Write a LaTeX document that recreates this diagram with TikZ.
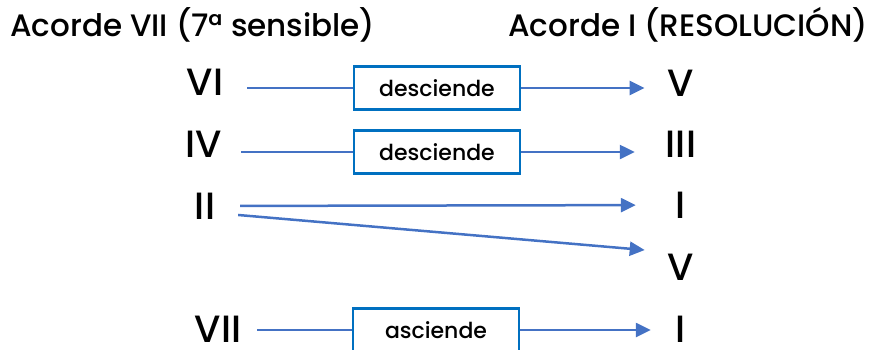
\documentclass[tikz,border=0pt]{standalone}
\usepackage{fontspec}
\setmainfont{Poppins Medium}
\usetikzlibrary{positioning, arrows.meta}
\definecolor{arrowblue}{HTML}{4472C4}
\definecolor{boxblue}{HTML}{0070C0}

\begin{document}
\begin{tikzpicture}[x=1pt, y=-1pt,
  grado/.style={font=\fontsize{38}{40}\selectfont, inner sep=0pt, text height=26.5pt, text depth=0pt},
  titulo/.style={font=\fontsize{31}{33}\selectfont, inner sep=0pt},
  movbox/.style={draw=boxblue, line width=2.5pt, fill=white, minimum width=166pt,
                 minimum height=43pt, inner sep=0pt, font=\fontsize{22}{24}\selectfont},
  linea/.style={arrowblue, line width=2.5pt},
  flecha/.style={linea, -{Triangle[length=15pt,width=14pt]}}]
  \useasboundingbox (0,0) rectangle (874,349);
  % titles
  \node[titulo, anchor=base west] (tizq) at (10,36) {Acorde VII (7ª sensible)};
  \node[titulo, anchor=base east] (tder) at (868,36) {Acorde I (RESOLUCIÓN)};
  % chord VII
  \node[grado] (vi) at (205,82) {VI};
  \node[grado] (iv) at (204,144) {IV};
  \node[grado] (ii) at (205,206) {II};
  \node[grado] (vii) at (218,329) {VII};
  % chord I
  \node[grado] (v) at (681,83) {V};
  \node[grado] (iii) at (681,144) {III};
  \node[grado] (i) at (681,205) {I};
  \node[grado] (vb) at (681,267) {V};
  \node[grado] (ib) at (681,329) {I};
  % boxes
  \node[movbox] (des1) at (437,88) {desciende};
  \node[movbox] (des2) at (437,152) {desciende};
  \node[movbox] (asc) at (436,330) {asciende};
  % connectors
  \draw[linea, shorten <=24pt] (vi.east |- des1.west) -- (des1.west);
  \draw[flecha, shorten >=23pt] (des1.east) -- (des1.east -| v.west);
  \draw[linea, shorten <=19pt] (iv.east |- des2.west) -- (des2.west);
  \draw[flecha, shorten >=31pt] (des2.east) -- (des2.east -| iii.west);
  \draw[flecha, shorten <=25pt, shorten >=40pt] (ii) -- (i);
  \draw[flecha, shorten <=23pt, shorten >=23pt]
    ([shift={(0,7)}]ii.east) -- ([shift={(0,-15)}]vb.west);
  \draw[linea, shorten <=16pt] (vii.east |- asc.west) -- (asc.west);
  \draw[flecha, shorten >=25pt] (asc.east) -- (asc.east -| ib.west);
\end{tikzpicture}
\end{document}
